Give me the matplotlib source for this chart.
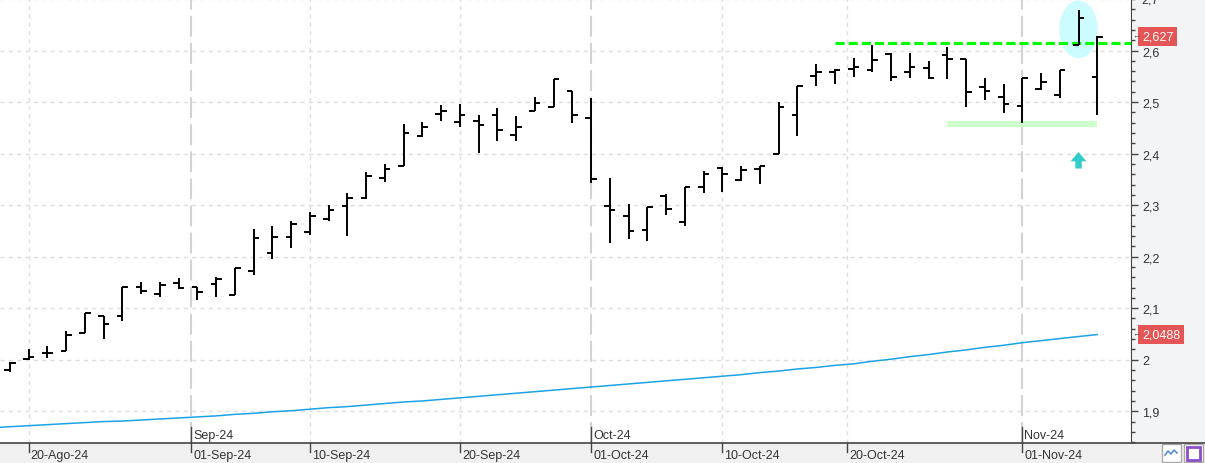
import numpy as np
import pandas as pd
import matplotlib
matplotlib.use("Agg")
import matplotlib.pyplot as plt
import matplotlib.transforms as mtransforms
from matplotlib.patches import Rectangle, Ellipse
from matplotlib.lines import Line2D

plt.rcParams['font.family'] = ['Liberation Sans', 'DejaVu Sans']

# trading days shown on the chart
dates = pd.bdate_range('2024-08-19', '2024-11-07')

# OHLC
opens = [1.981, 2.002, 2.013, 2.017, 2.051, 2.085, 2.085, 2.141, 2.128, 2.149,
         2.142, 2.147, 2.126, 2.172, 2.208, 2.238, 2.248, 2.274, 2.299, 2.313,
         2.353, 2.376, 2.434, 2.477, 2.461, 2.463, 2.474, 2.437, 2.483, 2.490,
         2.522, 2.469, 2.299, 2.279, 2.251, 2.317, 2.268, 2.336, 2.373, 2.349,
         2.371, 2.400, 2.475, 2.551, 2.558, 2.564, 2.562, 2.594, 2.558, 2.566,
         2.591, 2.583, 2.529, 2.510, 2.492, 2.526, 2.514, 2.611, 2.549]
highs = [1.995, 2.021, 2.026, 2.056, 2.091, 2.085, 2.141, 2.151, 2.151, 2.158,
         2.142, 2.160, 2.178, 2.253, 2.259, 2.269, 2.286, 2.300, 2.324, 2.364,
         2.380, 2.458, 2.462, 2.494, 2.497, 2.474, 2.489, 2.472, 2.510, 2.545,
         2.522, 2.508, 2.352, 2.303, 2.297, 2.322, 2.336, 2.367, 2.374, 2.376,
         2.376, 2.501, 2.531, 2.573, 2.565, 2.585, 2.611, 2.595, 2.596, 2.580,
         2.607, 2.583, 2.546, 2.535, 2.546, 2.557, 2.562, 2.678, 2.628]
lows = [1.976, 2.000, 2.003, 2.017, 2.051, 2.041, 2.075, 2.127, 2.121, 2.137,
        2.115, 2.121, 2.126, 2.164, 2.196, 2.217, 2.243, 2.270, 2.241, 2.311,
        2.345, 2.376, 2.432, 2.463, 2.452, 2.401, 2.425, 2.425, 2.483, 2.490,
        2.459, 2.343, 2.227, 2.235, 2.231, 2.280, 2.259, 2.324, 2.325, 2.346,
        2.341, 2.400, 2.434, 2.531, 2.535, 2.548, 2.558, 2.541, 2.547, 2.544,
        2.544, 2.490, 2.504, 2.478, 2.460, 2.524, 2.507, 2.610, 2.475]
closes = [1.994, 2.006, 2.013, 2.048, 2.091, 2.069, 2.141, 2.134, 2.145, 2.140,
          2.132, 2.157, 2.178, 2.236, 2.238, 2.264, 2.278, 2.290, 2.313, 2.356,
          2.371, 2.440, 2.452, 2.483, 2.475, 2.456, 2.446, 2.452, 2.498, 2.545,
          2.474, 2.350, 2.290, 2.249, 2.296, 2.292, 2.336, 2.361, 2.361, 2.369,
          2.375, 2.490, 2.531, 2.558, 2.562, 2.568, 2.581, 2.549, 2.568, 2.546,
          2.583, 2.520, 2.522, 2.496, 2.546, 2.539, 2.562, 2.663, 2.627]

# long moving average (first value is the day before the first bar)
ma_values = [1.868, 1.870, 1.872, 1.874, 1.876, 1.878, 1.880, 1.881, 1.883, 1.885,
             1.887, 1.889, 1.891, 1.894, 1.896, 1.899, 1.901, 1.904, 1.907, 1.909,
             1.912, 1.915, 1.918, 1.920, 1.923, 1.926, 1.929, 1.932, 1.935, 1.938,
             1.941, 1.944, 1.947, 1.950, 1.953, 1.956, 1.959, 1.962, 1.965, 1.968,
             1.971, 1.975, 1.978, 1.982, 1.985, 1.989, 1.992, 1.997, 2.001, 2.006,
             2.010, 2.015, 2.019, 2.024, 2.028, 2.033, 2.037, 2.041, 2.045, 2.0488]

resistance = 2.6155
support = 2.458

tick_dates = ['2024-08-20', '2024-09-01', '2024-09-10', '2024-09-20',
              '2024-10-01', '2024-10-10', '2024-10-20', '2024-11-01']
tick_labels = ['20-Ago-24', '01-Sep-24', '10-Sep-24', '20-Sep-24',
               '01-Oct-24', '10-Oct-24', '20-Oct-24', '01-Nov-24']
month_dates = ['2024-09-01', '2024-10-01', '2024-11-01']
month_labels = ['Sep-24', 'Oct-24', 'Nov-24']


def date_pos(d):
    # fractional bar index for a calendar date (weekends fall between bars)
    return np.interp(pd.Timestamp(d).toordinal(), [x.toordinal() for x in dates], np.arange(len(dates)))


def fmt(v):
    return f'{v:g}'.replace('.', ',')


fig = plt.figure(figsize=(12.05, 4.64), dpi=100)
fig.patch.set_facecolor('#f0f0f0')
ax = fig.add_axes([0, 20 / 464, 1131 / 1205, 444 / 464])
ax.set_facecolor('white')
fig.add_artist(Rectangle((1131 / 1205, 20 / 464), 74 / 1205, 444 / 464,
                         transform=fig.transFigure, fc='#f3f4f6', ec='none', zorder=-1))

x = np.arange(len(dates))
ax.set_xlim(-0.53, 59.8)
ax.set_ylim(1.8384, 2.6956)

# grid
for v in np.arange(1.9, 2.71, 0.1):
    ax.axhline(v, color='#dedede', lw=1, dashes=(3, 3), zorder=1)
for d in tick_dates:
    if d not in month_dates:
        ax.axvline(date_pos(d), color='#dedede', lw=1, dashes=(3, 3), zorder=1)
for d in month_dates:
    ax.axvline(date_pos(d), color='#d2d2d2', lw=1.5, dashes=(10, 3), zorder=1)

# annotations behind the bars
ax.add_patch(Ellipse((57, 2.641), 2.05, 0.112, fc='#ccfcff', ec='none', zorder=2))
ax.plot([50, 58], [support, support], color='#ccffcc', lw=4.5, solid_capstyle='butt', zorder=2)
ax.plot([44, 59.8], [resistance, resistance], color='#00ff00', lw=2.2,
        dashes=(3.0, 1.3), zorder=4)
ax.arrow(57, 2.371, 0, 0.014, width=0.34, head_width=0.85, head_length=0.018,
         fc='#33cccc', ec='none', length_includes_head=False, zorder=3)

# moving average
ax.plot(np.arange(-1, len(dates)), ma_values, color='#1aa3e8', lw=1.1, zorder=3)

# OHLC bars
tk = 0.3
ax.vlines(x, lows, highs, color='black', lw=1.4, zorder=5)
ax.hlines(opens, x - tk, x, color='black', lw=1.4, zorder=5)
ax.hlines(closes, x, x + tk, color='black', lw=1.4, zorder=5)

# right axis
ax.yaxis.tick_right()
ax.set_yticks(np.arange(1.9, 2.61, 0.1))
ax.set_yticks(np.arange(1.84, 2.70, 0.02), minor=True)
ax.set_yticklabels([fmt(round(v, 1)) for v in np.arange(1.9, 2.61, 0.1)])
ax.tick_params(axis='y', which='major', length=5, width=1, color='#444444',
               labelsize=9, labelcolor='#333333', pad=3)
ax.tick_params(axis='y', which='minor', length=3, width=1, color='#444444')
ax.annotate('2,7', xy=(1, 2.7), xycoords=('axes fraction', 'data'), xytext=(10, 0),
            textcoords='offset pixels', va='center', fontsize=9, color='#333333',
            annotation_clip=False)
ax.set_xticks([])
for s in ['top', 'left', 'bottom']:
    ax.spines[s].set_visible(False)
ax.spines['right'].set_color('#444444')
fig.add_artist(Line2D([0, 1], [20 / 464, 20 / 464], transform=fig.transFigure,
                      color='#444444', lw=1.2))

# date labels under the axis
trans = mtransforms.blended_transform_factory(ax.transData, ax.transAxes)
for d, lab in zip(tick_dates, tick_labels):
    p = date_pos(d)
    ax.plot([p, p], [0, -9 / 444], transform=trans, color='#444444', lw=1, clip_on=False)
    ax.annotate(lab, xy=(p, 0), xycoords=trans, xytext=(2, -12), textcoords='offset pixels',
                ha='left', va='center', fontsize=9, color='#333333', annotation_clip=False)
for d, lab in zip(month_dates, month_labels):
    p = date_pos(d)
    ax.plot([p, p], [0, 16 / 444], transform=trans, color='#444444', lw=1, zorder=6)
    ax.annotate(lab, xy=(p, 0), xycoords=trans, xytext=(2, 8), textcoords='offset pixels',
                ha='left', va='center', fontsize=9, color='#333333')

# price flags on the right axis
for val, txt in [(closes[-1], '2,627'), (ma_values[-1], '2,0488')]:
    ax.annotate(txt, xy=(1, val), xycoords=('axes fraction', 'data'), xytext=(11, 0),
                textcoords='offset pixels', va='center', ha='left', fontsize=9, color='white',
                bbox=dict(boxstyle='square,pad=0.3', fc='#e65555', ec='none'),
                annotation_clip=False)
    ax.annotate('\u2190', xy=(1, val), xycoords=('axes fraction', 'data'), xytext=(1, 1),
                textcoords='offset pixels', va='center', ha='left', fontsize=6, color='#444444',
                annotation_clip=False)

# small toolbar buttons bottom right
for bx in [1162, 1184]:
    fig.add_artist(Rectangle((bx / 1205, 1 / 464), 19 / 1205, 18 / 464, transform=fig.transFigure,
                             fc='white', ec='#aaaaaa', lw=1))
fig.add_artist(Line2D(np.array([1165, 1168, 1171, 1174, 1177]) / 1205,
                      np.array([8, 12, 9, 13, 10]) / 464, transform=fig.transFigure,
                      color='#5b8fd6', lw=1.2))
fig.add_artist(Rectangle((1187 / 1205, 3 / 464), 13 / 1205, 13 / 464, transform=fig.transFigure,
                         fc='white', ec='#8a4fc8', lw=2))

fig.savefig('out.png', dpi=100, facecolor=fig.get_facecolor())
